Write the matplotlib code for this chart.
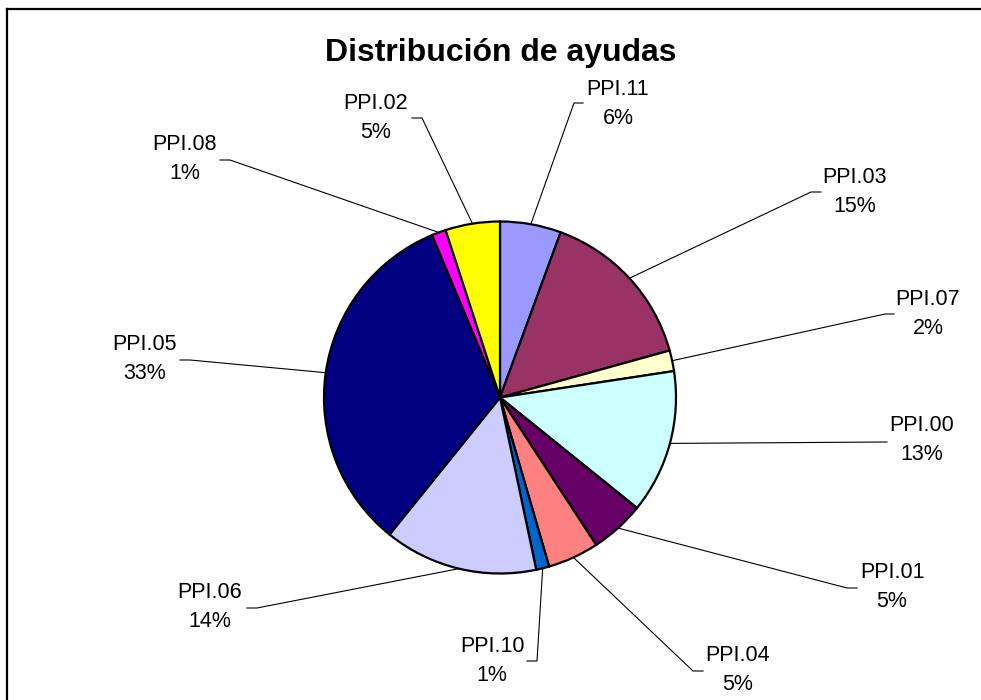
import matplotlib
matplotlib.use("Agg")
import matplotlib.pyplot as plt
from matplotlib.lines import Line2D
import numpy as np

plt.rcParams['font.family'] = ['Liberation Sans', 'DejaVu Sans']

# ---- data ----
categories = ["PPI.11", "PPI.03", "PPI.07", "PPI.00", "PPI.01", "PPI.04",
              "PPI.10", "PPI.06", "PPI.05", "PPI.08", "PPI.02"]
values = [5.6, 15.1, 1.9, 13.2, 5.0, 4.7, 1.2, 14.1, 32.9, 1.3, 5.0]
colors = ["#9999FF", "#993366", "#FFFFCC", "#CCFFFF", "#660066", "#FF8080",
          "#0066CC", "#CCCCFF", "#000080", "#FF00FF", "#FFFF00"]
title = "Distribución de ayudas"

# ---- layout (pixel coordinates, y measured from top) ----
W, H = 981, 700
center_px = (500, 397.5)
radius_px = 176
# elbow point of leader line, end of short horizontal segment, text centre
elbows = [(574, 103), (811, 192), (885, 314), (887, 442), (847, 588), (693, 671),
          (537, 661), (257, 608), (190, 360), (230, 160), (422, 118)]
ends = [(583, 103), (821, 192), (894, 314), (887, 442), (857, 588), (703, 671),
        (527, 661), (247, 608), (180, 360), (220, 160), (412, 118)]
text_pos = [(618, 104), (855, 192), (928, 314), (922, 440), (892, 587), (738, 670),
            (492, 661), (210, 607), (145, 359), (185, 159), (376, 118)]

fig = plt.figure(figsize=(W / 100, H / 100), dpi=100)
ax = fig.add_axes([0, 0, 1, 1])

cx, cy = center_px[0], H - center_px[1]
wedges, _ = ax.pie(values, colors=colors, startangle=90, counterclock=False,
                   center=(cx, cy), radius=radius_px, frame=False,
                   wedgeprops=dict(edgecolor="black", linewidth=1.6))
ax.set_xlim(0, W)
ax.set_ylim(0, H)
ax.set_aspect("auto")
ax.axis("off")

total = sum(values)
cum = 0.0
for i, (cat, v) in enumerate(zip(categories, values)):
    mid = (cum + v / 2) / total * 2 * np.pi
    cum += v
    sx = cx + radius_px * np.sin(mid)
    sy = cy + radius_px * np.cos(mid)
    ex, ey = elbows[i]
    hx, hy = ends[i]
    ax.plot([sx, ex, hx], [sy, H - ey, H - hy], color="black", lw=0.8,
            solid_joinstyle="miter", zorder=5)
    pct = int(round(v / total * 100))
    tx, ty = text_pos[i]
    ax.text(tx, H - ty, f"{cat}\n{pct}%", ha="center", va="center",
            fontsize=15.5, linespacing=1.55, color="black")

ax.text(501, H - 61, title, ha="center", va="baseline", fontsize=23,
        fontweight="bold", color="black")

# chart frame (top and left edges visible)
fig.add_artist(Line2D([7 / W, 1.0], [1 - 9 / H, 1 - 9 / H], transform=fig.transFigure,
                      color="black", lw=1.6))
fig.add_artist(Line2D([7 / W, 7 / W], [0, 1 - 9 / H], transform=fig.transFigure,
                      color="black", lw=1.6))

fig.savefig("out.png", dpi=100, facecolor="white")
